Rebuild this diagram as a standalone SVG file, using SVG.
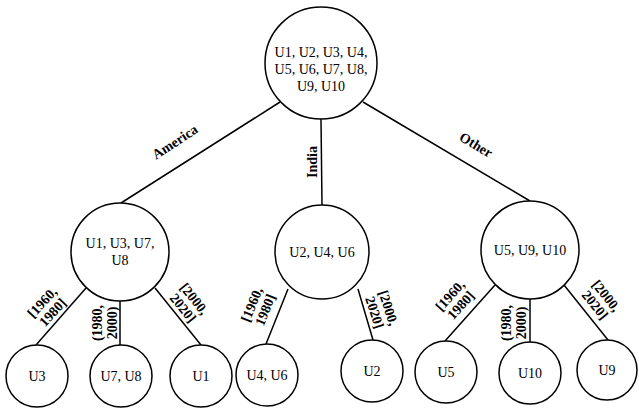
<svg xmlns="http://www.w3.org/2000/svg" width="639" height="410" viewBox="0 0 639 410">
<style>
  .node { fill: #ffffff; stroke: #000000; stroke-width: 1.5; }
  .edge { stroke: #000000; stroke-width: 1.5; fill: none; }
  .t { font-family: "Liberation Serif", "Times New Roman", serif; font-size: 14px; fill: #000000; text-anchor: middle; }
  .lbl { font-family: "Liberation Serif", "Times New Roman", serif; font-size: 14px; font-weight: bold; fill: #000000; text-anchor: middle; }
</style>
<rect width="639" height="410" fill="#ffffff"/>
<g id="connectors">
  <line class="edge" x1="280" y1="102" x2="121" y2="203"/>
  <line class="edge" x1="321" y1="119" x2="322" y2="205"/>
  <line class="edge" x1="363" y1="102" x2="530" y2="201"/>
  <line class="edge" x1="86" y1="288" x2="36" y2="345"/>
  <line class="edge" x1="120" y1="301" x2="120" y2="345"/>
  <line class="edge" x1="155" y1="288" x2="201" y2="345"/>
  <line class="edge" x1="288" y1="289" x2="266" y2="344"/>
  <line class="edge" x1="358" y1="289" x2="373" y2="340"/>
  <line class="edge" x1="495" y1="285" x2="445" y2="341"/>
  <line class="edge" x1="530" y1="299" x2="530" y2="342"/>
  <line class="edge" x1="564" y1="285" x2="608" y2="340"/>
  <text class="lbl" transform="translate(175,142) rotate(-33)" y="4.5">America</text>
  <text class="lbl" transform="translate(312,162) rotate(-90)" y="4.5">India</text>
  <text class="lbl" transform="translate(476,145) rotate(31)" y="4.5">Other</text>
  <text class="lbl" transform="translate(47,307) rotate(-47)"><tspan x="0" y="-2">[1960,</tspan><tspan x="0" y="12.5">1980]</tspan></text>
  <text class="lbl" transform="translate(104,323) rotate(-90)"><tspan x="0" y="-2">(1980,</tspan><tspan x="0" y="12.5">2000)</tspan></text>
  <text class="lbl" transform="translate(189,303) rotate(51)"><tspan x="0" y="-2">[2000,</tspan><tspan x="0" y="12.5">2020]</tspan></text>
  <text class="lbl" transform="translate(258,307) rotate(-68)"><tspan x="0" y="-2">[1960,</tspan><tspan x="0" y="12.5">1980]</tspan></text>
  <text class="lbl" transform="translate(382,310) rotate(72)"><tspan x="0" y="-2">[2000,</tspan><tspan x="0" y="12.5">2020]</tspan></text>
  <text class="lbl" transform="translate(455,300) rotate(-48)"><tspan x="0" y="-2">[1960,</tspan><tspan x="0" y="12.5">1980]</tspan></text>
  <text class="lbl" transform="translate(513,323) rotate(-90)"><tspan x="0" y="-2">(1980,</tspan><tspan x="0" y="12.5">2000)</tspan></text>
  <text class="lbl" transform="translate(601,300) rotate(51)"><tspan x="0" y="-2">[2000,</tspan><tspan x="0" y="12.5">2020]</tspan></text>
</g>
<g id="root">
  <circle class="node" cx="321" cy="63" r="56"/>
  <text class="t" x="321" y="57">U1, U2, U3, U4,</text>
  <text class="t" x="321" y="74">U5, U6, U7, U8,</text>
  <text class="t" x="321" y="91">U9, U10</text>
</g>
<g id="america">
  <circle class="node" cx="120" cy="252" r="49"/>
  <text class="t" x="120" y="248">U1, U3, U7,</text>
  <text class="t" x="120" y="265">U8</text>
</g>
<g id="india">
  <circle class="node" cx="322" cy="252" r="47"/>
  <text class="t" x="322" y="257">U2, U4, U6</text>
</g>
<g id="other">
  <circle class="node" cx="530" cy="250" r="49"/>
  <text class="t" x="530" y="255">U5, U9, U10</text>
</g>
<g id="leaf-u3">
  <circle class="node" cx="37" cy="376" r="31"/>
  <text class="t" x="37" y="381">U3</text>
</g>
<g id="leaf-u7u8">
  <circle class="node" cx="121" cy="376" r="31"/>
  <text class="t" x="121" y="381">U7, U8</text>
</g>
<g id="leaf-u1">
  <circle class="node" cx="201" cy="376" r="31"/>
  <text class="t" x="201" y="381">U1</text>
</g>
<g id="leaf-u4u6">
  <circle class="node" cx="267" cy="375" r="31"/>
  <text class="t" x="267" y="380">U4, U6</text>
</g>
<g id="leaf-u2">
  <circle class="node" cx="372" cy="371" r="31"/>
  <text class="t" x="372" y="376">U2</text>
</g>
<g id="leaf-u5">
  <circle class="node" cx="446" cy="372" r="31"/>
  <text class="t" x="446" y="377">U5</text>
</g>
<g id="leaf-u10">
  <circle class="node" cx="530" cy="373" r="31"/>
  <text class="t" x="530" y="378">U10</text>
</g>
<g id="leaf-u9">
  <circle class="node" cx="607" cy="370" r="30"/>
  <text class="t" x="607" y="375">U9</text>
</g>
</svg>
